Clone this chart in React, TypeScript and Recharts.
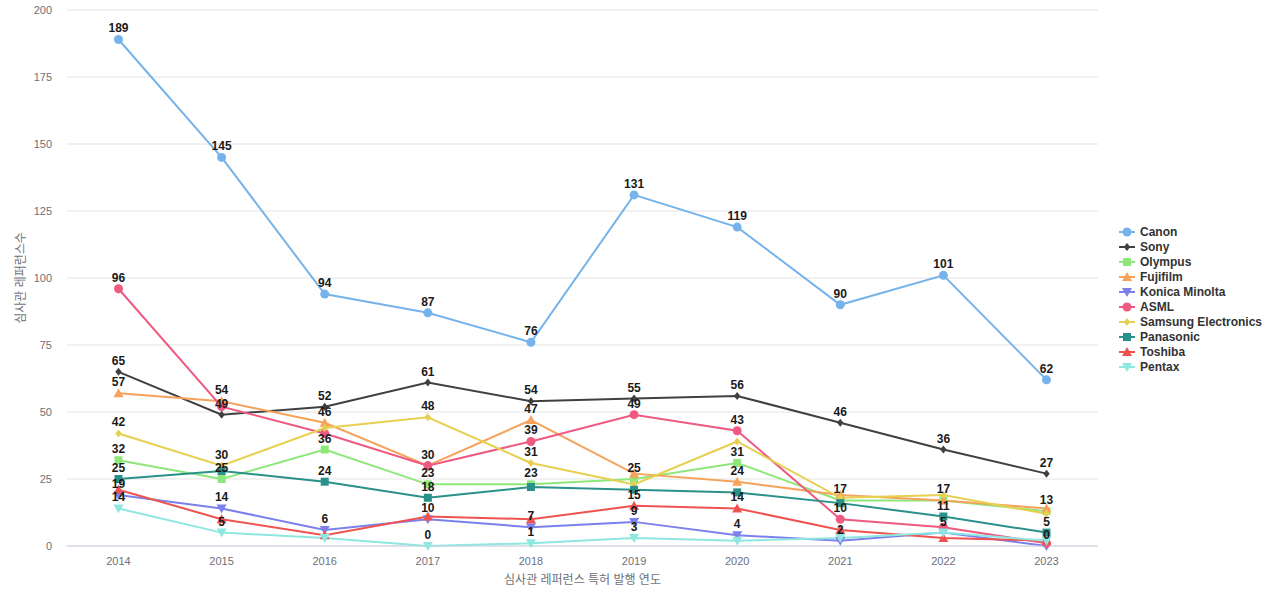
import React from "react";
import { LineChart, Line, XAxis, YAxis, CartesianGrid } from "recharts";

const YEARS = ["2014", "2015", "2016", "2017", "2018", "2019", "2020", "2021", "2022", "2023"];

const CANON = [189, 145, 94, 87, 76, 131, 119, 90, 101, 62];
const SONY = [65, 49, 52, 61, 54, 55, 56, 46, 36, 27];
const OLYMPUS = [32, 25, 36, 23, 23, 25, 31, 17, 17, 13];
const FUJIFILM = [57, 54, 46, 30, 47, 27, 24, 19, 17, 14];
const KONICA = [19, 14, 6, 10, 7, 9, 4, 2, 5, 0];
const ASML = [96, 52, 42, 30, 39, 49, 43, 10, 7, 1];
const SAMSUNG = [42, 30, 44, 48, 31, 23, 39, 18, 19, 12];
const PANASONIC = [25, 28, 24, 18, 22, 21, 20, 16, 11, 5];
const TOSHIBA = [21, 10, 4, 11, 10, 15, 14, 6, 3, 2];
const PENTAX = [14, 5, 3, 0, 1, 3, 2, 3, 5, 2];

const Y_TICKS = [0, 25, 50, 75, 100, 125, 150, 175, 200];

type Shape = "circle" | "diamond" | "square" | "triangle" | "down";

const SERIES: { name: string; values: number[]; color: string; shape: Shape; size: number }[] = [
  { name: "Canon", values: CANON, color: "#76b3ea", shape: "circle", size: 4.5 },
  { name: "Sony", values: SONY, color: "#404040", shape: "diamond", size: 4 },
  { name: "Olympus", values: OLYMPUS, color: "#8ee77a", shape: "square", size: 4 },
  { name: "Fujifilm", values: FUJIFILM, color: "#f7a25a", shape: "triangle", size: 5 },
  { name: "Konica Minolta", values: KONICA, color: "#7c80ea", shape: "down", size: 5 },
  { name: "ASML", values: ASML, color: "#ee5a80", shape: "circle", size: 4.5 },
  { name: "Samsung Electronics", values: SAMSUNG, color: "#e7d050", shape: "diamond", size: 4 },
  { name: "Panasonic", values: PANASONIC, color: "#2a918a", shape: "square", size: 4 },
  { name: "Toshiba", values: TOSHIBA, color: "#ef5350", shape: "triangle", size: 5 },
  { name: "Pentax", values: PENTAX, color: "#8ee8df", shape: "down", size: 5 },
];

const data = YEARS.map((year, i) => {
  const row: Record<string, string | number> = { year };
  SERIES.forEach(s => { row[s.name] = s.values[i]; });
  return row;
});

// hide labels that would collide with an earlier series' label at the same year
const LABEL_GAP = 4.6;
const showLabel: boolean[][] = SERIES.map(() => YEARS.map(() => false));
YEARS.forEach((_, i) => {
  const shown: number[] = [];
  SERIES.forEach((s, si) => {
    const v = s.values[i];
    if (shown.every(w => Math.abs(w - v) >= LABEL_GAP)) {
      shown.push(v);
      showLabel[si][i] = true;
    }
  });
});

const FONT = "'Liberation Sans', Arial, 'Noto Sans CJK KR', sans-serif";

function Marker({ shape, cx, cy, r, color }: { shape: Shape; cx: number; cy: number; r: number; color: string }) {
  if (shape === "circle") return <circle cx={cx} cy={cy} r={r} fill={color} />;
  if (shape === "square") return <rect x={cx - r} y={cy - r} width={r * 2} height={r * 2} fill={color} />;
  if (shape === "diamond")
    return <polygon points={`${cx},${cy - r} ${cx + r * 0.8},${cy} ${cx},${cy + r} ${cx - r * 0.8},${cy}`} fill={color} />;
  if (shape === "triangle")
    return <polygon points={`${cx},${cy - r} ${cx + r},${cy + r * 0.8} ${cx - r},${cy + r * 0.8}`} fill={color} />;
  return <polygon points={`${cx - r},${cy - r * 0.8} ${cx + r},${cy - r * 0.8} ${cx},${cy + r}`} fill={color} />;
}

function makeDot(s: typeof SERIES[number]) {
  return (props: any) => {
    const { cx, cy, index } = props;
    if (cx == null || cy == null) return <g key={index} />;
    return (
      <g key={`${s.name}-${index}`}>
        <Marker shape={s.shape} cx={cx} cy={cy} r={s.size} color={s.color} />
      </g>
    );
  };
}

function makeLabel(si: number) {
  return (props: any) => {
    const { x, y, value, index } = props;
    if (!showLabel[si][index]) return null;
    return (
      <text
        key={`lbl-${si}-${index}`}
        x={x}
        y={y - 7}
        textAnchor="middle"
        fontSize={12}
        fontWeight="bold"
        fill="#1a1a1a"
        fontFamily={FONT}
      >
        {value}
      </text>
    );
  };
}

function LegendBox() {
  return (
    <div style={{ position: "absolute", left: 1119, top: 224, fontFamily: FONT }}>
      {SERIES.map(s => (
        <div key={s.name} style={{ display: "flex", alignItems: "center", height: 15 }}>
          <svg width={16} height={12} style={{ marginRight: 5 }}>
            <line x1={0} y1={6} x2={16} y2={6} stroke={s.color} strokeWidth={2} />
            <Marker shape={s.shape} cx={8} cy={6} r={s.size} color={s.color} />
          </svg>
          <span style={{ fontSize: 12, fontWeight: "bold", color: "#333" }}>{s.name}</span>
        </div>
      ))}
    </div>
  );
}

export default function App() {
  return (
    <div style={{ position: "absolute", left: 0, top: 0, width: 1280, height: 600, background: "#fff" }}>
      <LineChart width={1280} height={600} data={data} margin={{ top: 10, right: 182, left: 0, bottom: 6 }}>
        <CartesianGrid stroke="#e3e3e3" vertical={false} />
        <XAxis
          dataKey="year"
          height={48}
          padding={{ left: 51.5, right: 51.5 }}
          tick={{ fill: "#6e7079", fontSize: 11, fontFamily: FONT }}
          tickLine={false}
          axisLine={{ stroke: "#c9d1e3" }}
          tickMargin={5}
          label={{
            value: "심사관 레퍼런스 특허 발행 연도",
            position: "insideBottom",
            offset: 10,
            fill: "#6e7079",
            fontSize: 12,
            fontFamily: FONT,
          }}
        />
        <YAxis
          width={67}
          domain={[0, 200]}
          ticks={Y_TICKS}
          interval={0}
          tick={{ fill: "#6e7079", fontSize: 11, fontFamily: FONT }}
          tickLine={false}
          tickSize={0}
          tickMargin={15}
          axisLine={false}
          label={{
            value: "심사관 레퍼런스수",
            angle: -90,
            position: "insideLeft",
            offset: 21,
            fill: "#6e7079",
            fontSize: 12,
            fontFamily: FONT,
            style: { textAnchor: "middle" },
          }}
        />
        {SERIES.map((s, si) => (
          <Line
            key={s.name}
            type="linear"
            dataKey={s.name}
            stroke={s.color}
            strokeWidth={2}
            dot={makeDot(s)}
            activeDot={false}
            label={makeLabel(si)}
            isAnimationActive={false}
          />
        ))}
      </LineChart>
      <LegendBox />
    </div>
  );
}
